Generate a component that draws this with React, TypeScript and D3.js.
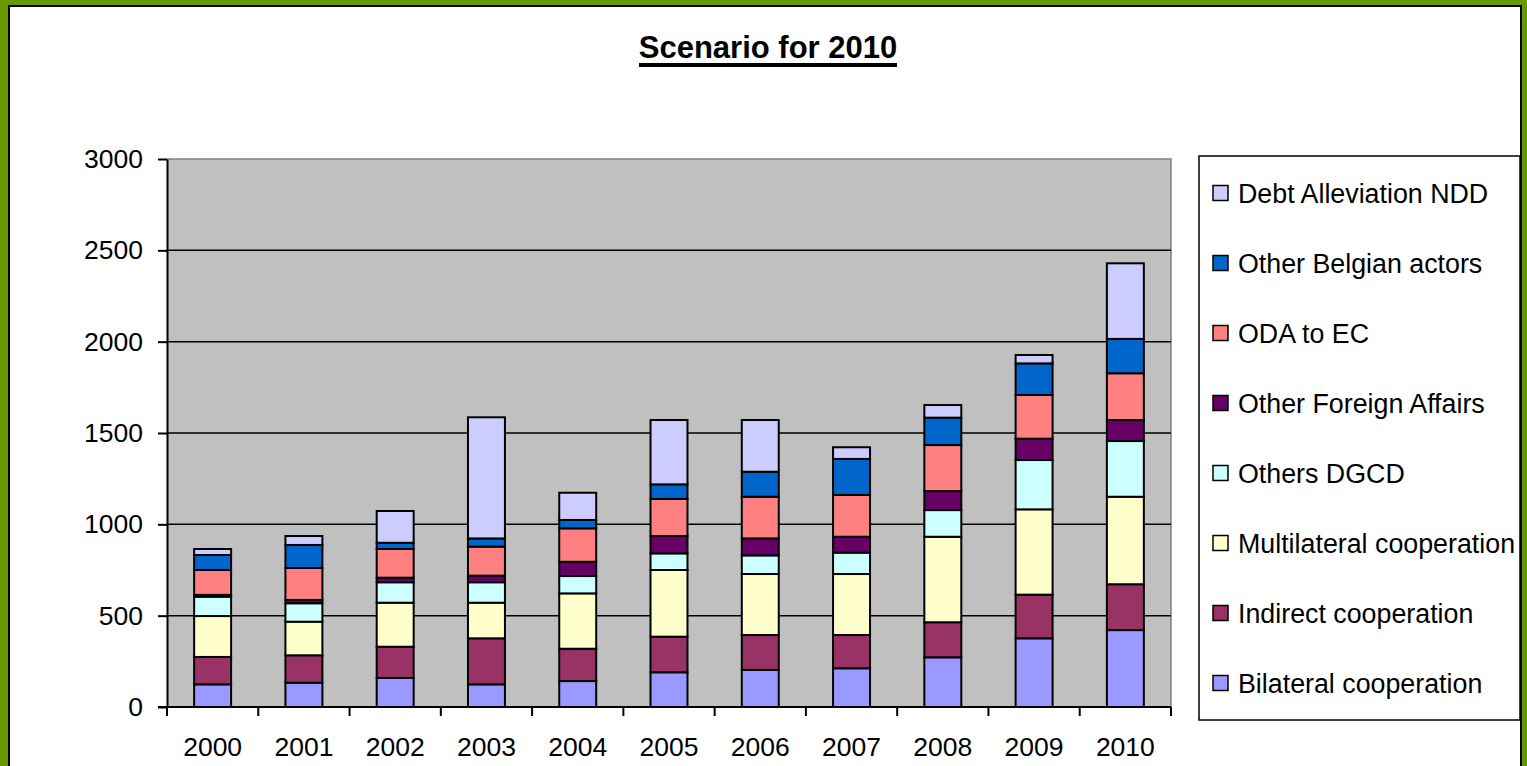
import React, { useEffect, useRef } from 'react';
import * as d3 from 'd3';

const years = ['2000', '2001', '2002', '2003', '2004', '2005', '2006', '2007', '2008', '2009', '2010'];

// stacked bottom to top
const seriesNames = [
  'Bilateral cooperation',
  'Indirect cooperation',
  'Multilateral cooperation',
  'Others DGCD',
  'Other Foreign Affairs',
  'ODA to EC',
  'Other Belgian actors',
  'Debt Alleviation NDD',
];

const bilateral = [124, 133, 159, 124, 142, 190, 203, 212, 272, 376, 421];
const indirect = [150, 150, 171, 252, 177, 195, 191, 182, 192, 239, 251];
const multilateral = [224, 184, 241, 195, 303, 365, 334, 334, 468, 467, 479];
const othersDgcd = [106, 101, 112, 112, 95, 91, 102, 117, 146, 270, 305];
const otherForeign = [10, 18, 25, 36, 78, 95, 93, 87, 104, 117, 115];
const odaToEc = [136, 175, 157, 159, 183, 203, 228, 229, 252, 239, 256];
const otherBelgian = [82, 126, 34, 45, 46, 80, 137, 197, 150, 173, 188];
const debtAlleviation = [33, 49, 174, 663, 149, 352, 283, 64, 69, 46, 414];

const yTicks = [0, 500, 1000, 1500, 2000, 2500, 3000];

const colors = ['#9999FF', '#993366', '#FFFFCC', '#CCFFFF', '#660066', '#FF8080', '#0066CC', '#CCCCFF'];

const W = 1527;
const H = 766;
const FONT = '"Liberation Sans", Arial, sans-serif';

export default function App() {
  const svgRef = useRef<SVGSVGElement>(null);

  useEffect(() => {
    if (!svgRef.current) return;
    const svg = d3.select(svgRef.current);
    svg.selectAll('*').remove();

    const allSeries = [bilateral, indirect, multilateral, othersDgcd, otherForeign, odaToEc, otherBelgian, debtAlleviation];
    const rows = years.map((yr, i) => {
      const row: any = { year: yr };
      seriesNames.forEach((s, k) => (row[s] = allSeries[k][i]));
      return row;
    });

    // frame
    svg.append('rect').attr('width', W).attr('height', H).attr('fill', '#669900');
    svg.append('rect')
      .attr('x', 9).attr('y', 6)
      .attr('width', 1512).attr('height', H)
      .attr('fill', '#ffffff')
      .attr('stroke', '#000').attr('stroke-width', 2);

    // title
    svg.append('text')
      .attr('x', 768).attr('y', 58)
      .attr('text-anchor', 'middle')
      .attr('font-family', FONT)
      .attr('font-size', 31)
      .attr('font-weight', 'bold')
      .text('Scenario for 2010');
    svg.append('rect').attr('x', 639).attr('y', 63).attr('width', 258).attr('height', 4).attr('fill', '#000');

    const left = 167, right = 1171, top = 159, bottom = 707;

    const x = d3.scaleBand<string>()
      .domain(years)
      .range([left, right])
      .paddingInner(0.595)
      .paddingOuter(0.2975);

    const y = d3.scaleLinear().domain([0, 3000]).range([bottom, top]);

    // plot area
    svg.append('rect')
      .attr('x', left).attr('y', top)
      .attr('width', right - left).attr('height', bottom - top)
      .attr('fill', '#C0C0C0');
    svg.append('path')
      .attr('d', `M${left},${top}H${right}V${bottom}`)
      .attr('fill', 'none').attr('stroke', '#808080').attr('stroke-width', 1.5);

    // gridlines
    svg.append('g')
      .selectAll('line')
      .data(yTicks.filter(t => t > 0 && t < 3000))
      .enter()
      .append('line')
      .attr('x1', left).attr('x2', right)
      .attr('y1', d => y(d)).attr('y2', d => y(d))
      .attr('stroke', '#000').attr('stroke-width', 1.5);

    // bars
    const stack = d3.stack<any>().keys(seriesNames);
    const stacked = stack(rows);
    svg.append('g')
      .selectAll('g')
      .data(stacked)
      .enter()
      .append('g')
      .attr('fill', (_d, i) => colors[i])
      .selectAll('rect')
      .data(d => d)
      .enter()
      .append('rect')
      .attr('x', d => x(d.data.year) || 0)
      .attr('width', x.bandwidth())
      .attr('y', d => y(d[1]))
      .attr('height', d => y(d[0]) - y(d[1]))
      .attr('stroke', '#000')
      .attr('stroke-width', 2);

    // y axis
    const yAxis = svg.append('g')
      .attr('transform', `translate(${left},0)`)
      .call(d3.axisLeft(y).tickValues(yTicks).tickFormat(d3.format('d')).tickSize(9).tickPadding(15).tickSizeOuter(0));
    yAxis.select('.domain').attr('stroke', '#000').attr('stroke-width', 2);
    yAxis.selectAll('.tick line').attr('stroke', '#000').attr('stroke-width', 2);
    yAxis.selectAll('.tick text')
      .attr('font-family', FONT).attr('font-size', 26.5).attr('fill', '#000');

    // x axis
    svg.append('line')
      .attr('x1', left - 9).attr('x2', right)
      .attr('y1', bottom).attr('y2', bottom)
      .attr('stroke', '#000').attr('stroke-width', 2);
    const step = x.step();
    const bounds = years.map(yr => (x(yr) || 0) + x.bandwidth() / 2 - step / 2).concat([right]);
    svg.append('g')
      .selectAll('line')
      .data(bounds)
      .enter()
      .append('line')
      .attr('x1', d => d).attr('x2', d => d)
      .attr('y1', bottom).attr('y2', bottom + 9)
      .attr('stroke', '#000').attr('stroke-width', 2);
    svg.append('g')
      .selectAll('text')
      .data(years)
      .enter()
      .append('text')
      .attr('x', d => (x(d) || 0) + x.bandwidth() / 2)
      .attr('y', 756)
      .attr('text-anchor', 'middle')
      .attr('font-family', FONT)
      .attr('font-size', 26.5)
      .text(d => d);

    // legend
    svg.append('rect')
      .attr('x', 1199).attr('y', 156)
      .attr('width', 321).attr('height', 564)
      .attr('fill', '#fff').attr('stroke', '#000').attr('stroke-width', 1.5);
    const legendItems = seriesNames.map((s, i) => ({ name: s, color: colors[i] })).reverse();
    const lg = svg.append('g')
      .selectAll('g')
      .data(legendItems)
      .enter()
      .append('g')
      .attr('transform', (_d, i) => `translate(1213,${193 + i * 70})`);
    lg.append('rect')
      .attr('x', 0).attr('y', -7.5)
      .attr('width', 15).attr('height', 15)
      .attr('fill', d => d.color)
      .attr('stroke', '#000').attr('stroke-width', 1.5);
    lg.append('text')
      .attr('x', 25).attr('y', 9.5)
      .attr('font-family', FONT)
      .attr('font-size', 26.8)
      .text(d => d.name);
  }, []);

  return (
    <svg ref={svgRef} width={W} height={H} style={{ position: 'absolute', left: 0, top: 0 }} />
  );
}
